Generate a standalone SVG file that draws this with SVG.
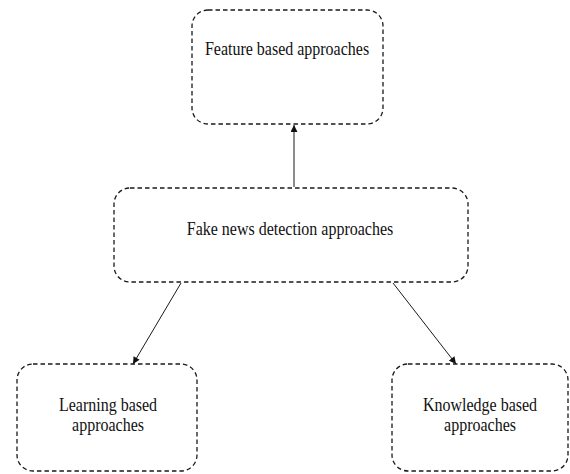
<svg xmlns="http://www.w3.org/2000/svg" width="570" height="474" viewBox="0 0 570 474">
  <style>
    .box { fill: #ffffff; stroke: #1a1a1a; stroke-width: 1.3; stroke-dasharray: 4.5 3; }
    .lbl { font-family: "Liberation Serif", "Times New Roman", serif; font-size: 16px; fill: #111111; text-anchor: middle; }
    .edge { stroke: #1a1a1a; stroke-width: 1; fill: none; marker-end: url(#arrow); }
  </style>
  <defs>
    <marker id="arrow" viewBox="0 0 10 10" refX="10" refY="5" markerWidth="8" markerHeight="7" markerUnits="userSpaceOnUse" orient="auto">
      <path d="M0,0 L10,5 L0,10 z" fill="#111111"/>
    </marker>
  </defs>
  <rect width="570" height="474" fill="#ffffff"/>

  <g id="edges">
    <line class="edge" x1="294" y1="187" x2="294" y2="125"/>
    <line class="edge" x1="181" y1="283" x2="133" y2="364"/>
    <line class="edge" x1="393" y1="283" x2="456" y2="364"/>
  </g>

  <!-- labels are drawn slightly tall (scaled 1.2 vertically) -->
  <g id="feature">
    <rect class="box" x="192" y="10" width="191" height="114" rx="16"/>
    <text class="lbl" transform="translate(287 55) scale(1 1.2)">Feature based approaches</text>
  </g>

  <g id="fake-news">
    <rect class="box" x="114" y="188" width="354" height="94" rx="16"/>
    <text class="lbl" transform="translate(290 235) scale(1 1.2)">Fake news detection approaches</text>
  </g>

  <g id="learning">
    <rect class="box" x="17" y="364" width="180" height="107" rx="16"/>
    <text class="lbl" transform="translate(108 411) scale(1 1.2)">Learning based</text>
    <text class="lbl" transform="translate(108 431) scale(1 1.2)">approaches</text>
  </g>

  <g id="knowledge">
    <rect class="box" x="392" y="364" width="176" height="107" rx="16"/>
    <text class="lbl" transform="translate(480 411) scale(1 1.2)">Knowledge based</text>
    <text class="lbl" transform="translate(480 431) scale(1 1.2)">approaches</text>
  </g>
</svg>
